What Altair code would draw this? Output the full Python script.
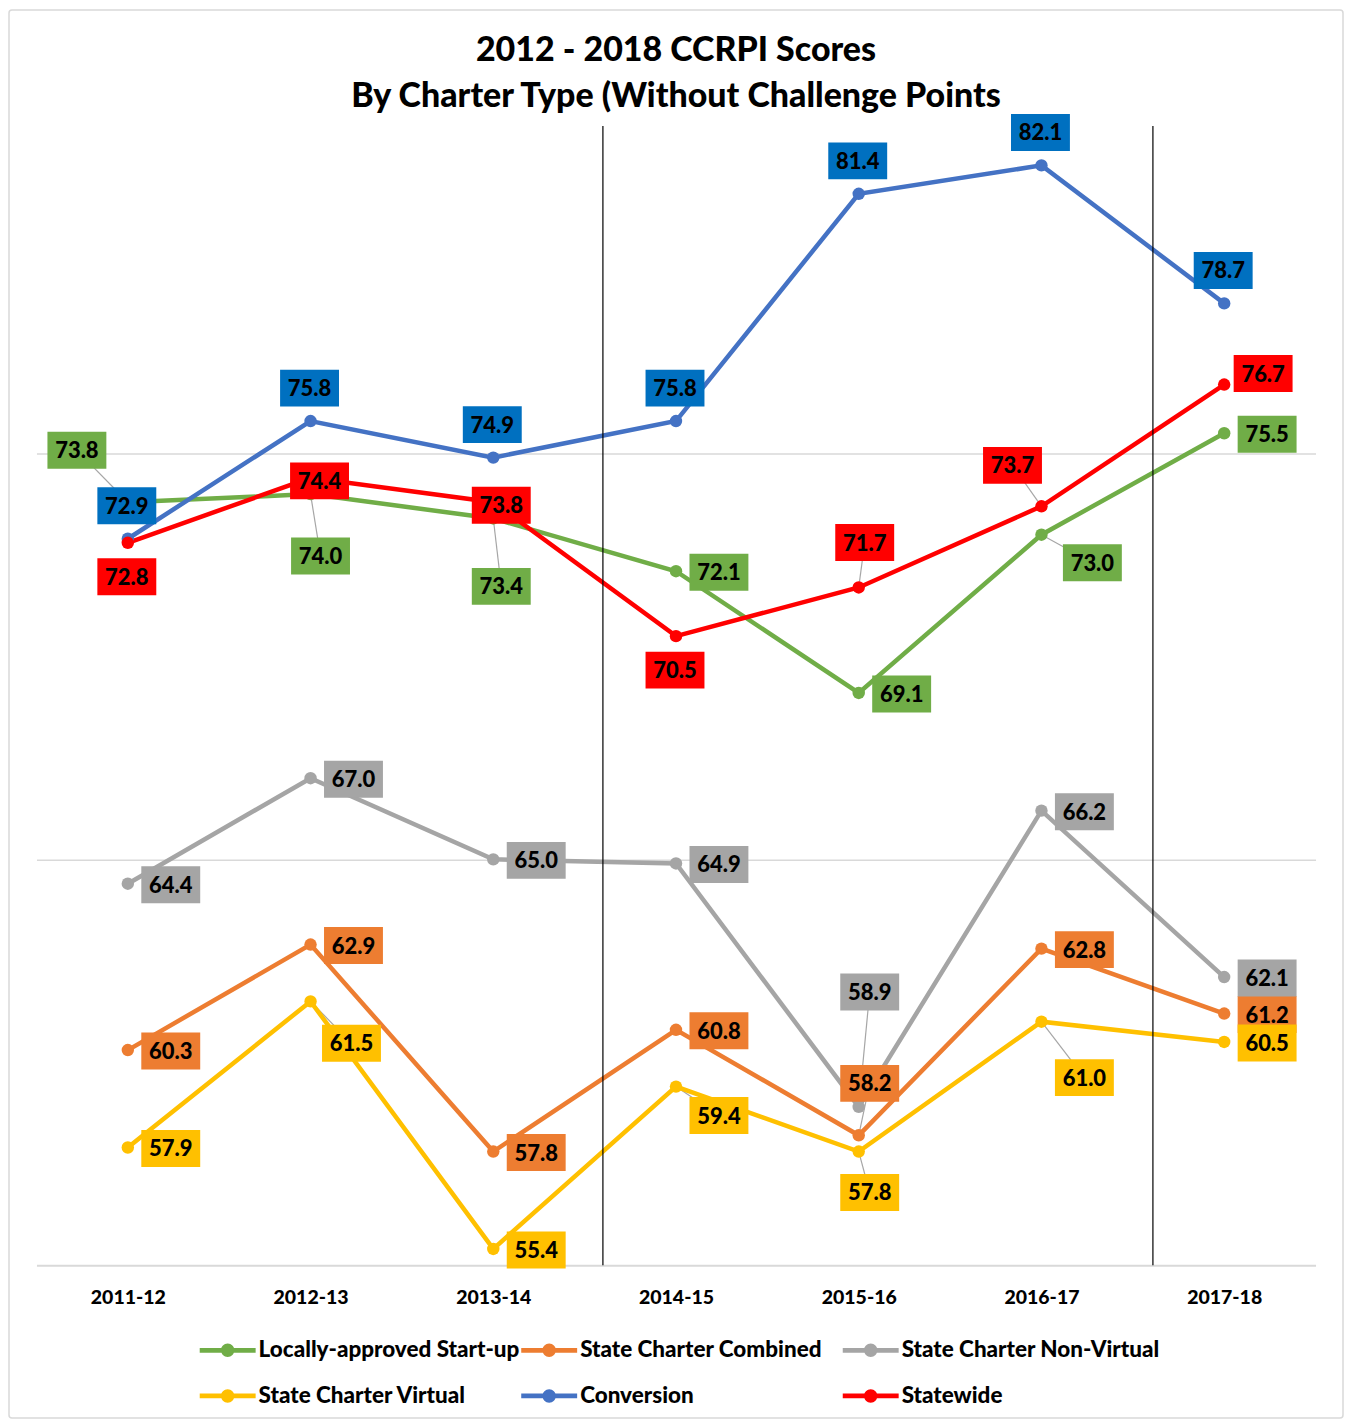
import json
import altair as alt
import pandas as pd

# ---------------- data ----------------
YEARS = ["2011-12", "2012-13", "2013-14", "2014-15", "2015-16", "2016-17", "2017-18"]
SERIES = [
    "Locally-approved Start-up",
    "State Charter Combined",
    "State Charter Non-Virtual",
    "State Charter Virtual",
    "Conversion",
    "Statewide",
]
LOCALLY = [73.8, 74.0, 73.4, 72.1, 69.1, 73.0, 75.5]
COMBINED = [60.3, 62.9, 57.8, 60.8, 58.2, 62.8, 61.2]
NON_VIRTUAL = [64.4, 67.0, 65.0, 64.9, 58.9, 66.2, 62.1]
VIRTUAL = [57.9, 61.5, 55.4, 59.4, 57.8, 61.0, 60.5]
CONVERSION = [72.9, 75.8, 74.9, 75.8, 81.4, 82.1, 78.7]
STATEWIDE = [72.8, 74.4, 73.8, 70.5, 71.7, 73.7, 76.7]
VALUES = [LOCALLY, COMBINED, NON_VIRTUAL, VIRTUAL, CONVERSION, STATEWIDE]

# period dividers (between school years)
DIVIDERS = [2.6, 5.61]

# ---------------- style ----------------
LINE_COLORS = ["#70AD47", "#ED7D31", "#A5A5A5", "#FFC000", "#4472C4", "#FF0000"]
BOX_COLORS = ["#70AD47", "#ED7D31", "#A5A5A5", "#FFC000", "#0070C0", "#FF0000"]
FONT = "Lato"
HEAVY = 900
W, H = 1281, 1138
PAD_L, PAD_T, PAD_R, PAD_B = 28.5, 120, 28.5, 154
YMIN, YMAX = 55, 83
PX_X = W / len(YEARS)
PX_Y = H / (YMAX - YMIN)
BOX_W, BOX_H = 59, 37

# data-label placement (pixel offset from point, leader line flag)
R = (43, 1, False)
A = (-1, -33, False)
B = (-1, 34, False)
LABEL_PLACE = {
    "Locally-approved Start-up": [(-51, -52, True), (10, 62, True), (8, 68, True), R, R, (51, 28, True), R],
    "State Charter Combined": [R, R, R, R, (11, -52, True), R, R],
    "State Charter Non-Virtual": [R, R, R, R, (11, -115, True), R, R],
    "State Charter Virtual": [R, (41, 42, True), R, (43, 29, True), (11, 41, True), (43, 56, True), R],
    "Conversion": [A] * 7,
    "Statewide": [B, (9, 3, False), (8, 3, False), B, (6, -45, True), (-29, -41, True), (39, -11, False)],
}

rows = []
for s, vals, lc, bc in zip(SERIES, VALUES, LINE_COLORS, BOX_COLORS):
    for i, v in enumerate(vals):
        dx, dy, leader = LABEL_PLACE[s][i]
        lx = i + dx / PX_X
        ly = v - dy / PX_Y
        rows.append(dict(
            series=s, idx=i, year=YEARS[i], value=v, label=f"{v:.1f}",
            lx=lx, ly=ly, leader=leader, lc=lc, box=bc,
            bx1=lx - BOX_W / 2 / PX_X, bx2=lx + BOX_W / 2 / PX_X,
            by1=ly - BOX_H / 2 / PX_Y, by2=ly + BOX_H / 2 / PX_Y,
        ))
df = pd.DataFrame(rows)
div_df = pd.DataFrame({"pos": DIVIDERS})

xscale = alt.Scale(domain=[-0.5, len(YEARS) - 0.5], nice=False, zero=False)
yscale = alt.Scale(domain=[YMIN, YMAX], nice=False, zero=False)
cscale = alt.Scale(domain=SERIES, range=LINE_COLORS)

x_axis = alt.Axis(
    values=list(range(len(YEARS))),
    labelExpr=f"{json.dumps(YEARS)}[datum.value]",
    grid=False, ticks=False, domain=True, domainColor="#D9D9D9", domainWidth=2,
    labelFont=FONT, labelFontSize=19.5, labelFontWeight=HEAVY, labelColor="black",
    labelPadding=23, title=None,
)
y_axis = alt.Axis(
    values=[65, 75], labels=False, ticks=False, domain=False, grid=True,
    gridColor="#D9D9D9", gridWidth=1.5, title=None,
)

LEGEND_PATH = (
    "M-1,-0.085H1V0.085H-1Z"
    "M0.24,0A0.24,0.24,0,1,1,-0.24,0A0.24,0.24,0,1,1,0.24,0Z"
)
legend = alt.Legend(
    orient="none", legendX=163.5, legendY=1195, columns=3, direction="horizontal",
    gridAlign="all", symbolType=LEGEND_PATH, symbolSize=56 * 56, symbolStrokeWidth=0,
    symbolOpacity=1, labelFont=FONT, labelFontSize=22.5, labelFontWeight=HEAVY,
    labelColor="black", labelOffset=3, columnPadding=1, rowPadding=6, title=None,
    padding=0, labelLimit=0,
)


def X(field):
    return alt.X(field, scale=xscale, axis=x_axis)


def Y(field):
    return alt.Y(field, scale=yscale, axis=y_axis)


border = alt.Chart(pd.DataFrame({"a": [0]})).mark_rect(
    fillOpacity=0, stroke="#D9D9D9", strokeWidth=1.5, cornerRadius=3
).encode(
    x=alt.value(-PAD_L + 1), x2=alt.value(W + PAD_R - 1),
    y=alt.value(-PAD_T + 1), y2=alt.value(H + PAD_B - 1),
)

lines = alt.Chart(df).mark_line(strokeWidth=4.5).encode(
    x=X("idx:Q"),
    y=Y("value:Q"),
    stroke=alt.Stroke("lc:N", scale=None),
    detail="series:N",
    order="idx:Q",
)

leaders = alt.Chart(df).transform_filter("datum.leader").mark_rule(
    color="#A6A6A6", strokeWidth=1.2
).encode(
    x=X("idx:Q"), y=Y("value:Q"),
    x2="lx:Q", y2="ly:Q",
)

points = alt.Chart(df).mark_circle(size=155, opacity=1).encode(
    x=X("idx:Q"), y=Y("value:Q"),
    color=alt.Color("series:N", scale=cscale, legend=legend),
)

dividers = alt.Chart(div_df).mark_rule(color="black", strokeWidth=1.2).encode(
    x=X("pos:Q"),
    y=alt.value(-3), y2=alt.value(H),
)

boxes = alt.Chart(df).mark_rect().encode(
    x=X("bx1:Q"), x2="bx2:Q",
    y=Y("by1:Q"), y2="by2:Q",
    fill=alt.Fill("box:N", scale=None),
)

texts = alt.Chart(df).mark_text(
    font=FONT, fontSize=22, fontWeight=HEAVY, color="black", baseline="middle", align="center", dy=1
).encode(
    x=X("lx:Q"), y=Y("ly:Q"),
    text="label:N",
)

chart = alt.layer(border, leaders, lines, points, dividers, boxes, texts).properties(
    width=W, height=H,
    autosize=alt.AutoSizeParams(type="none"),
    padding={"left": PAD_L, "top": PAD_T, "right": PAD_R, "bottom": PAD_B},
    background="white",
    title=alt.TitleParams(
        text=["2012 - 2018 CCRPI Scores", "By Charter Type (Without Challenge Points"],
        font=FONT, fontSize=34, fontWeight=HEAVY, color="black", lineHeight=46,
        anchor="middle", offset=-105,
    ),
).configure_view(stroke=None)

chart.save("out.html", embed_options={"renderer": "svg", "actions": False})
